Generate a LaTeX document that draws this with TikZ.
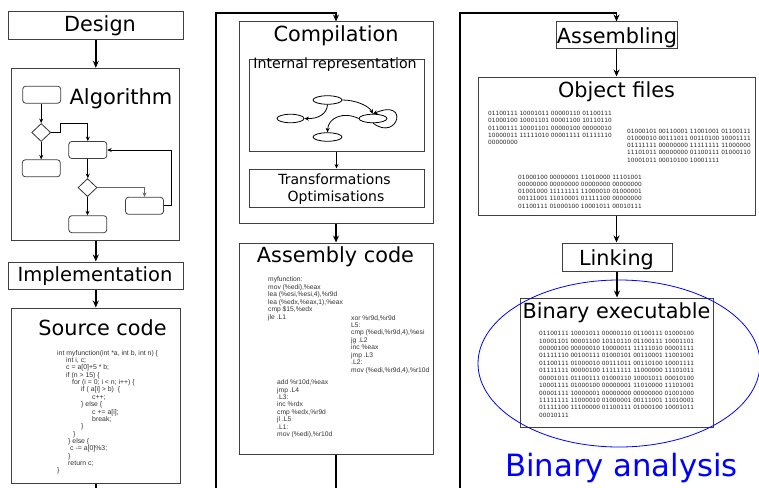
\documentclass[tikz,border=0pt]{standalone}
\usepackage{fontspec}
\setmainfont{DejaVu Sans}
\newfontfamily\codefont{Liberation Sans}
\usetikzlibrary{arrows.meta,shapes.geometric}
\begin{document}
\begin{tikzpicture}[x=1pt,y=-1pt,
  box/.style={draw=black!75,line width=1pt,rectangle,inner sep=0pt},
  ttl/.style={font=\fontsize{20.8}{25}\selectfont,inner sep=0pt,anchor=base},
  flow/.style={-{Stealth[length=7pt,width=6pt]},line width=1.7pt},
  sarrow/.style={-{Stealth[length=4.5pt,width=4pt]},line width=0.8pt},
  rbox/.style={draw=black!75,rounded corners=3pt,line width=0.8pt,minimum width=38pt,minimum height=17pt,inner sep=0pt},
  dmd/.style={draw=black!80,diamond,line width=0.8pt,minimum width=19pt,minimum height=18pt,inner sep=0pt},
  ell/.style={draw,ellipse,line width=0.8pt,minimum width=29pt,minimum height=8.5pt,inner sep=0pt},
  code/.style={font=\codefont\fontsize{6.9}{7.35}\selectfont,align=left,anchor=north west,inner sep=0pt,text=black!80},
  acode/.style={font=\codefont\fontsize{6.7}{7.45}\selectfont,align=left,anchor=north west,inner sep=0pt,text=black!80},
  bin/.style={font=\fontsize{5.8}{7.3}\selectfont,align=left,anchor=north west,inner sep=0pt,text=black!85},
  binx/.style={font=\fontsize{5.8}{7.42}\selectfont,align=left,anchor=north west,inner sep=0pt,text=black!85}]
\useasboundingbox (0,0) rectangle (759,487);
\fill[white] (0,0) rectangle (759,487);
\clip (0,0) rectangle (759,487);

% ---------- left column ----------
\node[box,minimum width=175pt,minimum height=28pt] (design) at (95.8,26) {};
\node[ttl] (designT) at (100,31.5) {Design};
\node[box,minimum width=168.3pt,minimum height=172.4pt] (alg) at (95.8,154.5) {};
\node[ttl,font=\fontsize{21}{25}\selectfont] (algT) at (121,104.3) {Algorithm};
\node[box,minimum width=175pt,minimum height=27pt] (impl) at (95.8,275.5) {};
\node[ttl,font=\fontsize{19.5}{24}\selectfont] (implT) at (95,281.7) {Implementation};
\node[box,minimum width=169pt,minimum height=175.5pt] (src) at (95.8,395.8) {};
\node[ttl] (srcT) at (102.5,335.7) {Source code};

\node[code] (srccode) at (57,350) {int myfunction(int *a, int b, int n) \{\\
\hspace*{9pt}int i, c;\\
\hspace*{9pt}c = a[0]+5 * b;\\
\hspace*{9pt}if (n > 15) \{\\
\hspace*{15pt}for (i = 0; i < n; i++) \{\\
\hspace*{24pt}if ( a[i] > b)~~\{\\
\hspace*{35pt}c++;\\
\hspace*{24pt}\} else \{\\
\hspace*{35pt}c += a[i];\\
\hspace*{35pt}break;\\
\hspace*{24pt}\}\\
\hspace*{16pt}\}\\
\hspace*{11pt}\} else \{\\
\hspace*{13pt}c -= a[0]\%3;\\
\hspace*{11pt}\}\\
\hspace*{11pt}return c;\\
\}};

% flowchart
\node[rbox] (fa) at (41.7,94.7) {};
\node[dmd] (fd1) at (41.2,132.5) {};
\node[rbox] (fb) at (41.3,168.3) {};
\node[rbox] (fc) at (87.8,150) {};
\node[dmd] (fd2) at (87.5,187.6) {};
\node[rbox] (fe) at (87.8,224.2) {};
\node[rbox] (ff) at (144.5,205.8) {};
\coordinate (j1) at (60,132.5);
\coordinate (j2) at (60,123.3);
\coordinate (j3) at (171.7,205.8);
\draw[sarrow] (fd1.north |- fa.south) -- (fd1.north);
\draw[sarrow] (fd1.south) -- (fd1.south |- fb.north);
\draw[sarrow] (fd1.east) -- (j1) -- (j2) -| (fc.north);
\draw[sarrow] (fc.south) -- (fc.south |- fd2.north);
\draw[sarrow] (fd2.south) -- (fd2.south |- fe.north);
\draw[sarrow,draw=black!60] (fd2.east) -| (ff.north);
\draw[sarrow] (ff.east) -- (j3) |- (fc.east);

\draw[flow] (design.south) -- (design.south |- alg.north);
\draw[flow] (alg.south) -- (alg.south |- impl.north);
\draw[flow] (impl.south) -- (impl.south |- src.north);

% ---------- middle column ----------
\node[box,minimum width=194pt,minimum height=201pt] (comp) at (336,122.5) {};
\node[ttl] (compT) at (336,41.5) {Compilation};
\node[box,minimum width=175pt,minimum height=92pt] (ir) at (336.5,105) {};
\node[ttl,font=\fontsize{14.2}{17}\selectfont] (irT) at (335,68.5) {Internal representation};
\node[box,minimum width=175pt,minimum height=38pt] (tr) at (336.5,188) {};
\node[ttl,font=\fontsize{14}{17}\selectfont] (trT1) at (334.5,184.5) {Transformations};
\node[ttl,font=\fontsize{14}{17}\selectfont] (trT2) at (336,201) {Optimisations};

\node[ell] (g1) at (327.5,100) {};
\node[ell,minimum width=27pt] (g2) at (290.5,118.5) {};
\node[ell,minimum width=28pt] (g3) at (373,118.5) {};
\node[ell] (g4) at (327.5,137) {};
\draw[sarrow] (g1.south) .. controls (327,114) and (318,119) .. (g2.east);
\draw[sarrow] (g1.east) .. controls (356,100) and (369,106) .. (g3.north);
\draw[sarrow] (g3.west) .. controls (343,111) and (328,118) .. (g4.north);
\draw[sarrow] (g3.south) .. controls (398,142) and (410,98) .. (g3.north);
\draw[sarrow] (ir.south) -- (ir.south |- tr.north);

\node[box,minimum width=194pt,minimum height=211pt] (asm) at (336,348.5) {};
\node[ttl] (asmT) at (335.5,262.7) {Assembly code};
\node[acode] (asm1) at (268,276.7) {myfunction:\\
mov (\%edi),\%eax\\
lea (\%esi,\%esi,4),\%r9d\\
lea (\%edx,\%eax,1),\%eax\\
cmp \$15,\%edx\\
jle .L1};
\node[acode] (asm2) at (351,315) {xor \%r9d,\%r9d\\
L5:\\
cmp (\%edi,\%r9d,4),\%esi\\
jg .L2\\
inc \%eax\\
jmp .L3\\
.L2:\\
mov (\%edi,\%r9d,4),\%r10d};
\node[acode] (asm3) at (277,379.5) {add \%r10d,\%eax\\
jmp .L4\\
.L3:\\
inc \%rdx\\
cmp \%edx,\%r9d\\
jl .L5\\
.L1:\\
mov (\%edi),\%r10d};

\draw[flow] (comp.south) -- (comp.south |- asm.north);

% ---------- right column ----------
\node[box,minimum width=121pt,minimum height=27pt] (asmb) at (616.5,35.5) {};
\node[ttl] (asmbT) at (617,44) {Assembling};
\node[box,minimum width=277pt,minimum height=138pt] (obj) at (616.5,146) {};
\node[ttl] (objT) at (616.5,97.3) {Object files};
\node[bin] (ob1) at (488,111) {01100111 10001011 00000110 01100111\\
01000100 10001101 00001100 10110110\\
01100111 10001101 00000100 00000010\\
10000011 11111010 00001111 01111110\\
00000000};
\node[bin] (ob2) at (627,128.5) {01000101 00110001 11001001 01100111\\
01000010 00111011 00110100 10001111\\
01111111 00000000 11111111 11000000\\
11101011 00000000 01100111 01000110\\
10001011 00010100 10001111};
\node[bin] (ob3) at (518,174.5) {01000100 00000001 11010000 11101001\\
00000000 00000000 00000000 00000000\\
01001000 11111111 11000010 01000001\\
00111001 11010001 01111100 00000000\\
01100111 01000100 10001011 00010111};

\node[box,minimum width=110pt,minimum height=28pt] (link) at (617,257) {};
\node[ttl] (linkT) at (616.5,265) {Linking};
\node[box,minimum width=193pt,minimum height=129pt] (bin) at (616.5,362.5) {};
\node[ttl] (binT) at (616.5,318.3) {Binary executable};
\node[binx] (bx) at (539,331.2) {01100111 10001011 00000110 01100111 01000100\\
10001101 00001100 10110110 01100111 10001101\\
00000100 00000010 10000011 11111010 00001111\\
01111110 00100111 01000101 00110001 11001001\\
01100111 01000010 00111011 00110100 10001111\\
01111111 00000100 11111111 11000000 11101011\\
00001011 01100111 01000110 10001011 00010100\\
10001111 01000100 00000001 11010000 11101001\\
00001111 10000001 00000000 00000000 01001000\\
11111111 11000010 01000001 00111001 11010001\\
01111100 11100000 01100111 01000100 10001011\\
00010111};
\node[draw=blue,ellipse,line width=0.8pt,minimum width=282pt,minimum height=167pt,inner sep=0pt] (ana) at (619,363.5) {};
\node[ttl,font=\fontsize{30.7}{36}\selectfont,text=blue] (anaT) at (621.5,476.7) {Binary analysis};

\draw[flow] (asmb.south) -- (asmb.south |- obj.north);
\draw[flow] (obj.south) -- (obj.south |- link.north);
\draw[flow] (link.south) -- (link.south |- bin.north);

% ---------- long loops ----------
\coordinate (b1) at (216,500);
\coordinate (t1) at (216,13);
\coordinate (b2) at (460,500);
\coordinate (t2) at (460,13);
\draw[flow] (src.south) -- (src.south |- b1) -- (b1) -- (t1) -| (comp.north);
\draw[flow] (asm.south) -- (asm.south |- b2) -- (b2) -- (t2) -| (asmb.north);
\end{tikzpicture}
\end{document}
